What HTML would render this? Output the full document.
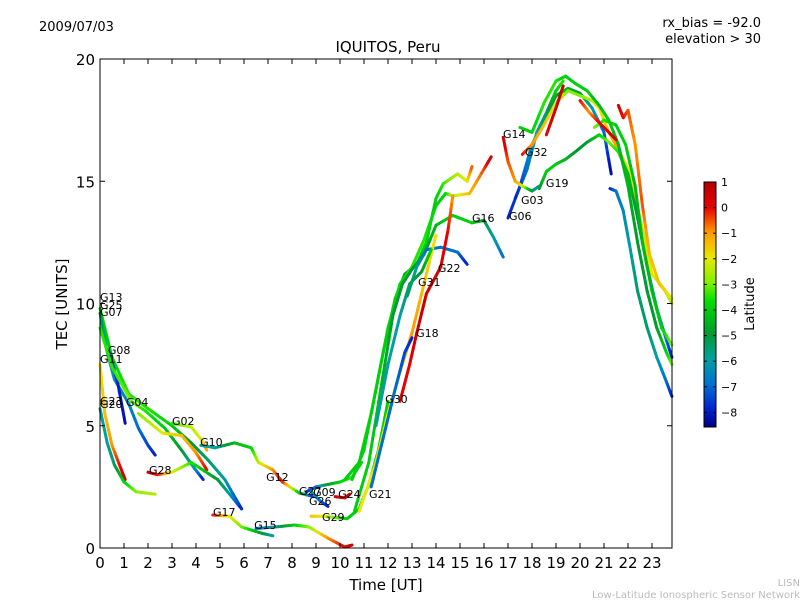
<!DOCTYPE html>
<html><head><meta charset="utf-8">
<style>
body{margin:0;background:#fff;}
svg{display:block;font-family:"DejaVu Sans","Liberation Sans",sans-serif;}
</style></head>
<body>
<svg id="chart" width="800" height="600" viewBox="0 0 800 600">
<defs>
<linearGradient id="cbar" x1="0" y1="1" x2="0" y2="0">
<stop offset="0" stop-color="#000080"/>
<stop offset="0.072" stop-color="#0020d0"/>
<stop offset="0.175" stop-color="#0070d0"/>
<stop offset="0.278" stop-color="#00a0a0"/>
<stop offset="0.381" stop-color="#009a30"/>
<stop offset="0.515" stop-color="#00e000"/>
<stop offset="0.588" stop-color="#80f000"/>
<stop offset="0.691" stop-color="#e8e800"/>
<stop offset="0.794" stop-color="#ff9900"/>
<stop offset="0.897" stop-color="#e80000"/>
<stop offset="1" stop-color="#b00000"/>
</linearGradient>
</defs>
<text x="39" y="31" font-size="13">2009/07/03</text>
<text x="388" y="52" font-size="15" text-anchor="middle">IQUITOS, Peru</text>
<text x="761" y="27" font-size="13" text-anchor="end">rx_bias = -92.0</text>
<text x="761" y="43" font-size="13" text-anchor="end">elevation &gt; 30</text>
<g id="plot"></g>
<g id="axes"></g>
<text transform="translate(67,304) rotate(-90)" font-size="15" text-anchor="middle">TEC [UNITS]</text>
<text x="386" y="590" font-size="15" text-anchor="middle">Time [UT]</text>
<rect x="704" y="182" width="12" height="245" fill="url(#cbar)" stroke="#000" stroke-width="1"/>
<g id="cbticks"></g>
<text transform="translate(754,304) rotate(-90)" font-size="13" text-anchor="middle">Latitude</text>
<text x="800" y="586" font-size="10" fill="#bbb" text-anchor="end">LISN</text>
<text x="800" y="598" font-size="10" fill="#bbb" text-anchor="end">Low-Latitude Ionospheric Sensor Network</text>
</svg>
<script>
// ---- data: each trace = [hour, TEC, latitude] ----
const traceNames = ["G13","G25","G08","G11","G20","G04","G02a","G02b","G28","G10","G17","G15","G27","G26","G29","G24",
 "P1","P2","P3","G22","G18","G30","G21","G31","G06","G03","G14","G32","G19","Q6","Q7","Q8","Q9","Q10","Q11"];
const traceG13=[[0,9.8,-4],[0.5,7.8,-4],[1.2,6.3,-3.5],[2,5.7,-3.5],[3,5.0,-4],[3.8,4.3,-5],[4.5,3.6,-5.5],[5.2,2.8,-6],[5.9,1.6,-8]];
const traceG25=[[0,9.6,-5],[0.3,8.0,-6],[0.6,6.9,-6.5],[1.2,5.9,-6.5],[1.6,4.9,-7],[2.0,4.2,-7.5],[2.3,3.8,-8]];
const traceG08=[[0.4,8.0,-7],[0.75,6.7,-8],[1.05,5.1,-8.3]];
const traceG11=[[0,7.5,-2],[0.2,5.5,-1.5],[0.5,4.2,-1],[0.85,3.3,0],[1.05,2.8,0.5]];
const traceG20=[[0,5.7,-6],[0.3,4.3,-6],[0.6,3.4,-5.5],[1.0,2.7,-4],[1.5,2.3,-3],[2.3,2.2,-2.5]];
const traceG04=[[0,9.0,-3.5],[0.5,7.4,-3.5],[1.3,6.0,-3],[1.9,5.6,-3.5],[2.7,4.9,-4],[3.4,4.0,-5],[3.9,3.3,-6],[4.3,2.8,-8]];
const traceG02a=[[3.0,5.1,-3.5],[3.8,4.95,-2.5],[4.25,4.4,-2],[4.45,4.0,-1]];
const traceG02b=[[1.6,5.5,-3],[2.6,4.7,-2],[3.4,4.6,-1.5],[4.0,3.9,-1],[4.45,3.2,0]];
const traceG28=[[2.0,3.1,0.5],[2.4,3.0,0],[3.0,3.1,-2],[3.8,3.5,-3.5],[4.9,2.8,-5],[5.4,2.2,-6],[5.9,1.6,-8]];
const traceG10=[[4.2,4.2,-6],[4.8,4.1,-6],[5.6,4.3,-4.5],[6.3,4.1,-4],[6.6,3.5,-2.5],[7.2,3.2,-1],[7.6,2.7,0],[8.3,2.25,-4],[8.9,2.1,-8]];
const traceG17=[[4.7,1.35,0],[5.4,1.3,-2],[5.9,0.86,-3],[6.75,0.6,-5],[7.2,0.5,-6]];
const traceG15=[[6.5,0.8,-7],[7.3,0.86,-6],[8.1,0.94,-4],[8.7,0.86,-3],[9.5,0.4,-1],[10.2,0.04,0],[10.5,0.12,0.5]];
const traceG27=[[8.6,2.3,-8],[9.0,2.5,-7],[9.5,2.6,-5],[10.0,2.7,-4],[10.5,2.9,-3.5],[10.9,3.5,-4]];
const traceG26=[[8.8,2.3,-6],[9.2,1.9,-7],[9.5,1.7,-8]];
const traceG29=[[8.8,1.3,-1.5],[9.3,1.3,-2],[9.8,1.25,-3],[10.3,1.2,-4],[10.8,1.6,-4],[11.2,2.6,-4],[11.6,4,-4],[12.0,6,-4]];
const traceG24=[[9.8,2.1,0.5],[10.2,2.05,0],[10.4,2.2,0.5]];
const traceP1=[[10.2,2.8,-4],[10.8,3.5,-4],[11.3,5.5,-4],[11.8,8,-4],[12.3,10.2,-4.5],[12.7,11.2,-5],[13.2,11.6,-4.5],[13.6,12.5,-4],[14,14.3,-4],[14.3,14.9,-3.5],[14.9,15.3,-2.5],[15.3,15.0,-2],[15.5,15.6,-0.5]];
const traceP2=[[10.5,2.8,-4],[11,4,-4],[11.5,6.5,-4],[12,9,-4],[12.5,10.8,-3.8],[13,11.5,-3.5],[13.5,12.6,-3.5],[14,14,-4],[14.4,14.5,-4],[14.7,14.4,-2.5],[15.4,14.5,-1.5],[16,15.5,-0.5],[16.3,16.0,0.5]];
const traceP3=[[10.6,1.5,-4],[11.2,3.5,-4],[11.7,6.5,-4.5],[12.2,9.5,-5],[12.6,10.8,-5],[13,11.4,-5],[13.5,12,-5],[14,13.2,-4.5],[14.7,13.6,-4],[15.5,13.3,-4],[16,13.4,-5],[16.4,12.7,-6],[16.8,11.9,-7]];
const traceG22=[[12.8,10.3,-5],[13.2,11.5,-6],[13.6,12.2,-7],[14.2,12.3,-7],[14.9,12.1,-7],[15.3,11.6,-8]];
const traceG18=[[12.5,6.0,0],[12.9,7.5,0],[13.2,8.8,0.5],[13.6,10.4,0.5],[14.2,11.5,0.3],[14.5,13,0],[14.7,14.4,-1]];
const traceG30=[[10.8,1.5,-2],[11.5,3.5,-2],[12,5.5,-2],[12.5,7.2,-1.5],[13,8.8,-1],[13.5,10.8,-1.5],[14,12.8,-2]];
const traceG21=[[11.3,2.5,-7],[11.8,4.5,-7],[12.3,6.5,-7],[12.7,8,-7.5],[13,8.6,-8]];
const traceG31=[[11.5,5,-6],[12.0,7.5,-6],[12.5,9.5,-6],[12.9,10.8,-5.5],[13.4,11.3,-5],[13.8,12.2,-4]];
const traceG06=[[17,13.5,-8],[17.5,14.8,-7.5],[18,16.5,-6.5],[18.5,17.5,-6],[19,18.5,-5],[19.5,18.8,-4.5],[20,18.6,-5],[20.5,18,-6],[21,17,-7],[21.3,15.3,-8.5]];
const traceG03=[[17.3,14.3,-8],[17.8,15.5,-7],[18.2,17,-6],[18.6,17.8,-5.5],[19,18.7,-4],[19.3,19.1,-3.5]];
const traceG14=[[16.8,16.8,0.5],[17.0,15.8,-0.5],[17.3,15.0,-1],[17.6,14.8,-2],[18,14.6,-5],[18.3,14.8,-6.5]];
const traceG32=[[17.6,16.1,0],[18,16.5,-1],[18.5,17.3,-1.5],[19,18.2,-2],[19.5,18.7,-3],[20,18.5,-3],[20.5,18.3,-2.5],[20.8,18,-2],[21.2,17,-1.5],[21.6,16.3,-1],[22,15.5,-2],[22.5,13.5,-2.5],[23,11.2,-2],[23.5,10.6,-2.5],[23.83,10,-2.5]];
const traceG19=[[18.3,14.7,-5],[18.6,15.4,-4],[19,15.7,-4],[19.4,15.9,-4.5],[19.8,16.2,-5],[20.3,16.6,-5],[20.8,16.9,-4],[21.2,16.6,-3],[21.6,16.2,-3.5],[22,15.3,-4.5],[22.4,13.5,-5],[22.8,11.5,-5.5],[23.2,9.8,-6],[23.6,8.5,-7],[23.83,7.8,-8]];
const traceQ6=[[20.6,17.2,-3],[21,17.5,-3.5],[21.5,17.3,-4],[21.9,16.5,-4],[22.3,14.8,-4.5],[22.6,12.5,-4.5],[23,10.5,-4.5],[23.4,9,-4],[23.83,8.3,-3]];
const traceQ7=[[21.25,14.7,-8],[21.5,14.6,-7],[21.8,13.8,-6.5],[22.1,12.2,-6],[22.4,10.5,-5.5],[22.8,9,-5.5],[23.2,7.8,-6],[23.6,6.8,-7],[23.83,6.2,-8]];
const traceQ8=[[21.6,18.1,0.5],[21.8,17.6,0],[22,17.9,-0.5],[22.3,16.5,-1],[22.6,14,-0.5],[22.9,12,-1.5],[23.3,10.8,-1.5],[23.83,10.2,-2]];
const traceQ9=[[18.6,16.9,0],[19.0,18.0,0.5],[19.3,18.9,0.5]];
const traceQ10=[[17.5,17.2,-4],[18,17.0,-4],[18.5,18.2,-3.5],[19,19.1,-3.5],[19.4,19.3,-4],[19.8,19.0,-4],[20.3,18.7,-4],[20.8,18.1,-4.5],[21.2,17.5,-4],[21.6,16.5,-4.5],[22,14.8,-4.5],[22.4,12.5,-5],[22.8,10.5,-5],[23.2,9,-5],[23.6,8,-4],[23.83,7.5,-3]];
const traceQ11=[[20.0,18.3,0],[20.4,17.8,-1],[20.8,17.4,0],[21.5,16.7,0.5]];
const traces=[traceG13,traceG25,traceG08,traceG11,traceG20,traceG04,traceG02a,traceG02b,traceG28,traceG10,traceG17,traceG15,traceG27,traceG26,traceG29,traceG24,
 traceP1,traceP2,traceP3,traceG22,traceG18,traceG30,traceG21,traceG31,traceG06,traceG03,traceG14,traceG32,traceG19,traceQ6,traceQ7,traceQ8,traceQ9,traceQ10,traceQ11];
const labelNames=["G13","G25","G07","G08","G11","G23","G20","G04","G02","G10","G28","G12","G27","G09","G26","G24","G21","G17","G15","G29","G30","G18","G31","G22","G16","G14","G32","G19","G03","G06"];
const labelHours=[0,0,0,0.33,0,0,0,1.08,3.0,4.17,2.04,6.92,8.29,8.88,8.71,9.92,11.21,4.71,6.42,9.25,11.88,13.17,13.25,14.08,15.5,16.79,17.71,18.58,17.54,17.04];
const labelTec=[10.1,9.78,9.49,7.93,7.57,5.85,5.73,5.81,5.03,4.17,3.03,2.74,2.17,2.13,1.76,2.04,2.04,1.31,0.78,1.10,5.93,8.63,10.72,11.29,13.33,16.77,16.03,14.76,14.07,13.42];
const xTicks=[0,1,2,3,4,5,6,7,8,9,10,11,12,13,14,15,16,17,18,19,20,21,22,23];
const yTicks=[0,5,10,15,20];
const cbTicks=[1,0,-1,-2,-3,-4,-5,-6,-7,-8];

// ---- axes functions ----
const X0=100,X1=672,Y0=548,Y1=59,XMAX=23.833,YMAX=20;
const xs=h=>X0+h/XMAX*(X1-X0);
const ys=v=>Y0-v/YMAX*(Y0-Y1);
const cbY=l=>182+(1-l)*25.6;
const stops=[[-8.7,[0,0,128]],[-8,[0,32,208]],[-7,[0,112,208]],[-6,[0,160,160]],[-5,[0,154,48]],[-3.7,[0,224,0]],[-3,[128,240,0]],[-2,[232,232,0]],[-1,[255,153,0]],[0,[232,0,0]],[1,[176,0,0]]];
function col(l){
  if(l<=stops[0][0])return 'rgb('+stops[0][1]+')';
  for(let i=1;i<stops.length;i++){if(l<=stops[i][0]){const a=stops[i-1],b=stops[i],t=(l-a[0])/(b[0]-a[0]);
    return 'rgb('+a[1].map((c,k)=>Math.round(c+(b[1][k]-c)*t)).join(',')+')';}}
  return 'rgb('+stops[stops.length-1][1]+')';
}
const NS='http://www.w3.org/2000/svg';
const plot=document.getElementById('plot'),axes=document.getElementById('axes'),cbt=document.getElementById('cbticks');
function mk(tag,at,parent){const e=document.createElementNS(NS,tag);for(const k in at)e.setAttribute(k,at[k]);parent.appendChild(e);return e;}

traces.forEach((tr,ti)=>{
  const g=mk('g',{},plot);
  
  
  for(let i=0;i<tr.length-1;i++){
    const a=tr[i],b=tr[i+1];
    const n=6;
    for(let k=0;k<n;k++){
      const t0=k/n,t1=(k+1)/n;
      const seg=mk('line',{x1:xs(a[0]+(b[0]-a[0])*t0),y1:ys(a[1]+(b[1]-a[1])*t0),x2:xs(a[0]+(b[0]-a[0])*t1),y2:ys(a[1]+(b[1]-a[1])*t1),
        stroke:col(a[2]+(b[2]-a[2])*(t0+t1)/2),'stroke-width':3,'stroke-linecap':'round'},g);
      
      
    }
  }
});
labelNames.forEach((n,i)=>{
  const t=mk('text',{x:xs(labelHours[i]),y:ys(labelTec[i]),'font-size':11},plot);
  t.textContent=n;
  
  
});
const frame=mk('rect',{x:X0,y:Y1,width:X1-X0,height:Y0-Y1,fill:'none',stroke:'#000','stroke-width':1},axes);


xTicks.forEach(h=>{
  const x=xs(h);
  mk('line',{x1:x,y1:Y0,x2:x,y2:Y0-5,stroke:'#000'},axes);
  mk('line',{x1:x,y1:Y1,x2:x,y2:Y1+5,stroke:'#000'},axes);
  const t=mk('text',{x:x,y:Y0+20,'font-size':15,'text-anchor':'middle'},axes);
  t.textContent=h;
  
  
});
yTicks.forEach(v=>{
  const y=ys(v);
  mk('line',{x1:X0,y1:y,x2:X0+5,y2:y,stroke:'#000'},axes);
  mk('line',{x1:X1,y1:y,x2:X1-5,y2:y,stroke:'#000'},axes);
  const t=mk('text',{x:X0-5,y:y+6,'font-size':15,'text-anchor':'end'},axes);
  t.textContent=v;
  
  
});
cbTicks.forEach(l=>{
  const y=cbY(l);
  mk('line',{x1:704,y1:y,x2:707,y2:y,stroke:'#000'},cbt);
  mk('line',{x1:716,y1:y,x2:713,y2:y,stroke:'#000'},cbt);
  const t=mk('text',{x:721,y:y+4,'font-size':11},cbt);
  t.textContent=l<0?'\u2212'+(-l):String(l);
  
  
});
</script>
</body></html>
